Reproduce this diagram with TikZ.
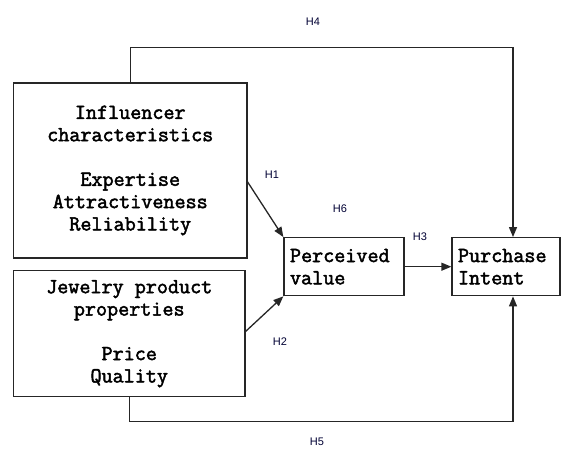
\documentclass[tikz,border=0pt]{standalone}
\usepackage{fontspec}
\setmainfont{Liberation Serif}
\newfontfamily\labfont{Liberation Sans}
\newfontfamily\boxfont{Latin Modern Mono}[FakeBold=2.2]
\usetikzlibrary{arrows.meta}
\begin{document}
\begin{tikzpicture}[x=1pt,y=-1pt,
  box/.style={draw=black!85,line width=1.3pt,inner sep=0pt,font=\boxfont\fontsize{21.5}{22.3}\selectfont},
  cbox/.style={box,align=center},
  arr/.style={draw=black!85,line width=1.3pt,-{Triangle[length=10pt,width=8pt]}},
  lab/.style={font=\labfont\fontsize{11}{12}\selectfont,text=black!80!blue}]
\useasboundingbox (0,0) rectangle (567,450);
\node[cbox,minimum width=233.5pt,minimum height=175pt] (box1) at (130.25,170.5)
  {Influencer\\characteristics\\[22.3pt]Expertise\\Attractiveness\\Reliability};
\node[cbox,minimum width=231.5pt,minimum height=126pt] (box2) at (129.25,333.7)
  {Jewelry product\\properties\\[22.3pt]Price\\Quality};
\node[box,align=left,text width=108pt,inner xsep=6pt,minimum height=58pt] (perc) at (344,266.7)
  {Perceived\\value};
\node[box,align=left,text width=96pt,inner xsep=6pt,minimum height=58pt] (purch) at (506,266.7)
  {Purchase\\Intent};
\coordinate (h4b) at (513,47.7);
\coordinate (h5b) at (513,421.7);
\coordinate (h1s) at (247,181);
\coordinate (h2s) at (245,332);
\draw[arr] (box1.north) |- (h4b) -- (h4b |- purch.north);
\draw[arr] (box2.south) |- (h5b) -- (h5b |- purch.south);
\draw[arr] (h1s) -- (perc.north west);
\draw[arr] (h2s) -- (perc.south west);
\draw[arr] (perc.east) -- (purch.west);
\node[lab] (l4) at (313,22) {H4};
\node[lab] (l1) at (272,175) {H1};
\node[lab] (l6) at (340,209) {H6};
\node[lab] (l3) at (420,237) {H3};
\node[lab] (l2) at (280,342) {H2};
\node[lab] (l5) at (317,442) {H5};
\end{tikzpicture}
\end{document}
